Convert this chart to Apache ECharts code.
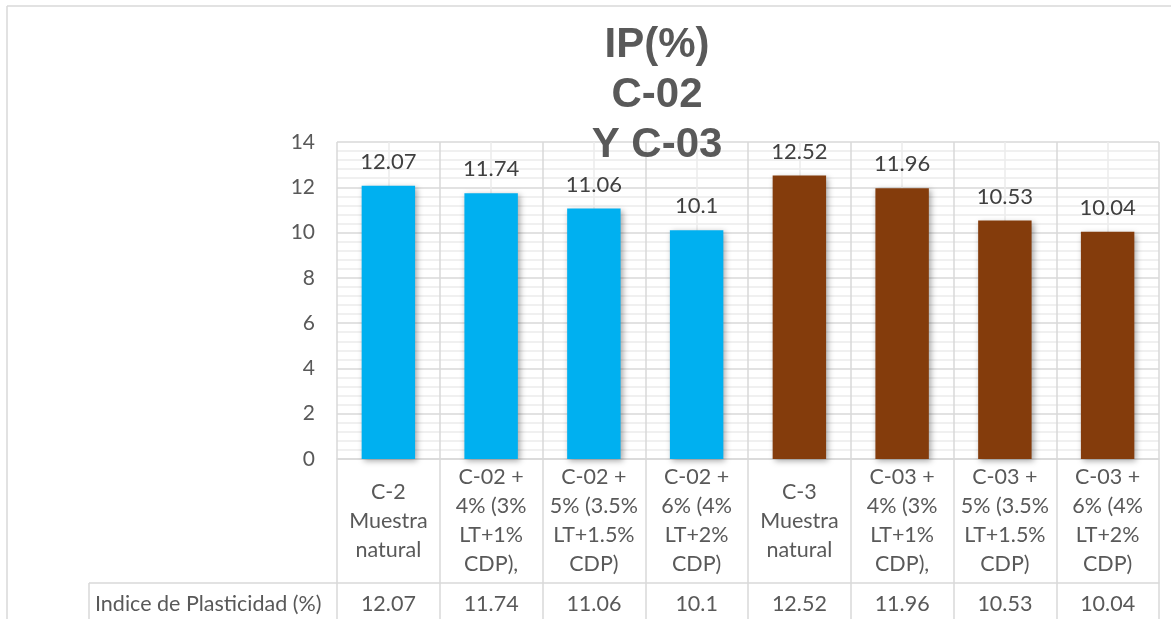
<!DOCTYPE html>
<html>
<head>
<meta charset="utf-8">
<script src="https://cdn.jsdelivr.net/npm/echarts@6/dist/echarts.min.js"></script>
<style>
  html, body { margin: 0; padding: 0; background: #fff; }
  #chart { width: 1171px; height: 619px; }
</style>
</head>
<body>
<div id="chart"></div>
<script>
// Plasticity index (IP, %) for soil samples C-02 and C-03, natural and stabilised
const categories = [
  'C-2\nMuestra\nnatural',
  'C-02 +\n4% (3%\nLT+1%\nCDP),',
  'C-02 +\n5% (3.5%\nLT+1.5%\nCDP)',
  'C-02 +\n6% (4%\nLT+2%\nCDP)',
  'C-3\nMuestra\nnatural',
  'C-03 +\n4% (3%\nLT+1%\nCDP),',
  'C-03 +\n5% (3.5%\nLT+1.5%\nCDP)',
  'C-03 +\n6% (4%\nLT+2%\nCDP)'
];
const sample = ['C-02', 'C-02', 'C-02', 'C-02', 'C-03', 'C-03', 'C-03', 'C-03'];
const ipValues = [12.07, 11.74, 11.06, 10.1, 12.52, 11.96, 10.53, 10.04];
const rowLabel = 'Indice de Plasticidad (%)';
const yTicks = { min: 0, max: 14, step: 2 };

const sampleColor = { 'C-02': '#00B0F0', 'C-03': '#843C0C' };
const FONT = 'Lato, "Open Sans", sans-serif';
const TEXT = '#595959';
const LINE = '#d9d9d9';
const MINOR = '#ececec';

// plot frame
const W = 1171, H = 619;
const G = { left: 337, right: 12, top: 142, bottom: 160 };
const axisY = H - G.bottom;          // y of the zero line
const labelRowH = 124;               // height of the category row of the table
const valueRowY = axisY + labelRowH; // top of the value row
const headerLeft = 89;               // left edge of the row-header cell
const tableFont = 21.5;

const chart = echarts.init(document.getElementById('chart'), null, { renderer: 'canvas' });

chart.setOption({
  backgroundColor: '#fff',
  animation: false,
  title: {
    text: 'IP(%)\nC-02\nY C-03',
    left: 652,
    top: 15,
    textAlign: 'center',
    textStyle: {
      fontFamily: '"Liberation Sans", Arial, sans-serif',
      fontWeight: 'bold',
      fontSize: 42,
      lineHeight: 50,
      color: TEXT
    }
  },
  grid: { left: G.left, right: G.right, top: G.top, bottom: G.bottom, containLabel: false },
  xAxis: [
    {
      // categories, with the table's column rules drawn as long ticks
      type: 'category',
      data: categories,
      position: 'bottom',
      axisLine: { show: true, lineStyle: { color: LINE, width: 1.5 } },
      axisTick: { show: true, inside: false, length: H - axisY, lineStyle: { color: LINE, width: 1.5 } },
      axisLabel: {
        interval: 0,
        verticalAlign: 'middle',
        margin: labelRowH / 2,
        fontFamily: FONT,
        fontSize: tableFont,
        lineHeight: 29,
        color: TEXT
      },
      splitLine: { show: false }
    },
    {
      // value row of the data table
      type: 'category',
      data: ipValues.map(v => String(v)),
      position: 'bottom',
      offset: labelRowH,
      axisLine: { show: true, lineStyle: { color: LINE, width: 1.5 } },
      axisTick: { show: false },
      axisLabel: {
        interval: 0,
        verticalAlign: 'middle',
        margin: 21,
        fontFamily: FONT,
        fontSize: tableFont,
        color: TEXT
      }
    },
    {
      // vertical grid: rules at column edges, light rules at column centres
      type: 'value',
      min: 0,
      max: categories.length,
      interval: 1,
      show: true,
      axisLine: { show: false },
      axisTick: { show: false },
      axisLabel: { show: false },
      splitLine: { show: true, lineStyle: { color: LINE, width: 1.5 } },
      minorTick: { show: false, splitNumber: 2 },
      minorSplitLine: { show: true, lineStyle: { color: MINOR, width: 1.5 } }
    }
  ],
  yAxis: {
    type: 'value',
    min: yTicks.min,
    max: yTicks.max,
    interval: yTicks.step,
    axisLine: { show: false },
    axisTick: { show: false },
    axisLabel: { fontFamily: FONT, fontSize: 21, color: TEXT, margin: 22 },
    splitLine: { show: true, lineStyle: { color: LINE, width: 1.5 } },
    minorTick: { show: false, splitNumber: 5 },
    minorSplitLine: { show: true, lineStyle: { color: MINOR, width: 1.5 } }
  },
  series: [
    {
      type: 'bar',
      xAxisIndex: 0,
      barWidth: '52%',
      data: ipValues.map((v, i) => ({ value: v, itemStyle: { color: sampleColor[sample[i]] } })),
      itemStyle: {
        shadowColor: 'rgba(0,0,0,0.35)',
        shadowBlur: 6,
        shadowOffsetX: 2,
        shadowOffsetY: 2
      },
      label: {
        show: true,
        position: 'top',
        distance: 13,
        fontFamily: FONT,
        fontSize: 22,
        color: '#404040'
      }
    }
  ],
  graphic: [
    // chart frame
    { type: 'line', shape: { x1: 7, y1: 6, x2: W, y2: 6 }, style: { stroke: LINE, lineWidth: 1.5 } },
    { type: 'line', shape: { x1: 7, y1: 6, x2: 7, y2: H }, style: { stroke: LINE, lineWidth: 1.5 } },
    // row-header cell of the data table
    { type: 'line', shape: { x1: headerLeft, y1: valueRowY, x2: G.left, y2: valueRowY }, style: { stroke: LINE, lineWidth: 1.5 } },
    { type: 'line', shape: { x1: headerLeft, y1: valueRowY, x2: headerLeft, y2: H }, style: { stroke: LINE, lineWidth: 1.5 } },
    {
      type: 'text',
      x: headerLeft + 6,
      y: valueRowY + 21,
      style: {
        text: rowLabel,
        fontFamily: FONT,
        fontSize: tableFont,
        fill: TEXT,
        verticalAlign: 'middle',
        align: 'left'
      }
    }
  ]
});
</script>
</body>
</html>
